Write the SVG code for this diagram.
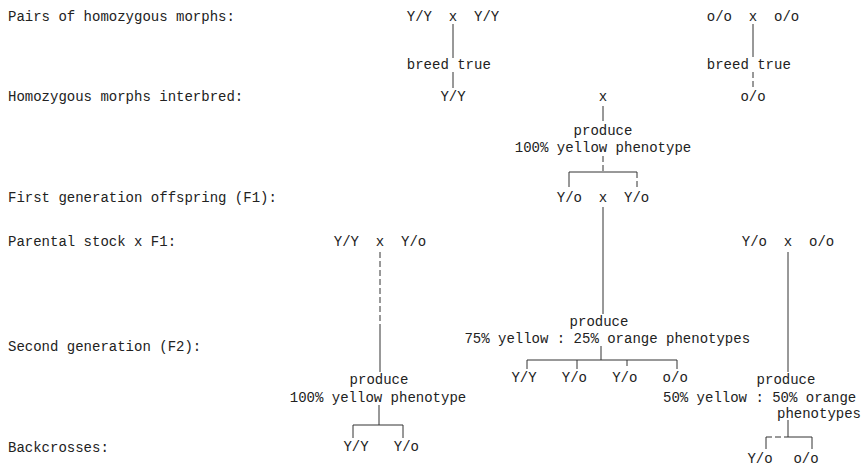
<svg xmlns="http://www.w3.org/2000/svg" width="863" height="467" viewBox="0 0 863 467">
<style>
text{font-family:"Liberation Mono","DejaVu Sans Mono",monospace;font-size:14px;fill:#222}
.m{text-anchor:middle}
line{stroke:#333;stroke-width:1}
.d{stroke-dasharray:6 3}
</style>
<rect width="863" height="467" fill="#fff"/>
<g id="labels">
<text x="8" y="21">Pairs of homozygous morphs:</text>
<text x="8" y="101">Homozygous morphs interbred:</text>
<text x="8" y="202">First generation offspring (F1):</text>
<text x="8" y="246">Parental stock x F1:</text>
<text x="8" y="351">Second generation (F2):</text>
<text x="8" y="452">Backcrosses:</text>
</g>
<g id="connectors">
<line x1="453" y1="24" x2="453" y2="58"/>
<line x1="453" y1="72" x2="453" y2="88"/>
<line x1="753" y1="24" x2="753" y2="57"/>
<line class="d" x1="753" y1="72" x2="753" y2="88"/>
<line x1="603" y1="106" x2="603" y2="121"/>
<line class="d" x1="603" y1="156" x2="603" y2="172"/>
<line x1="569" y1="172" x2="637" y2="172"/>
<line x1="569" y1="172" x2="569" y2="187"/>
<line class="d" x1="637" y1="172" x2="637" y2="187"/>
<line x1="603" y1="207" x2="603" y2="314"/>
<line x1="601" y1="346" x2="601" y2="360"/>
<line x1="527" y1="360" x2="677" y2="360"/>
<line x1="527" y1="360" x2="527" y2="369"/>
<line x1="577" y1="360" x2="577" y2="369"/>
<line class="d" x1="627" y1="360" x2="627" y2="369"/>
<line x1="677" y1="360" x2="677" y2="369"/>
<line class="d" x1="380" y1="252" x2="380" y2="330"/>
<line x1="380" y1="330" x2="380" y2="372"/>
<line x1="379" y1="405" x2="379" y2="425"/>
<line x1="353" y1="425" x2="403" y2="425"/>
<line x1="353" y1="425" x2="353" y2="438"/>
<line x1="403" y1="425" x2="403" y2="438"/>
<line x1="788" y1="252" x2="788" y2="372"/>
<line x1="788" y1="420" x2="788" y2="437"/>
<line class="d" x1="766" y1="437" x2="788" y2="437"/>
<line x1="788" y1="437" x2="812" y2="437"/>
<line x1="766" y1="437" x2="766" y2="449"/>
<line x1="812" y1="437" x2="812" y2="449"/>
</g>
<g id="yy-pair"><text x="406.8" y="21" xml:space="preserve">Y/Y  x  Y/Y</text></g>
<g id="yy-breed"><text x="406.8" y="69">breed true</text></g>
<g id="yy"><text class="m" x="453" y="101">Y/Y</text></g>
<g id="oo-pair"><text x="706.8" y="21" xml:space="preserve">o/o  x  o/o</text></g>
<g id="oo-breed"><text x="706.8" y="69">breed true</text></g>
<g id="oo"><text class="m" x="753" y="101">o/o</text></g>
<g id="cross1"><text class="m" x="603" y="101">x</text></g>
<g id="produce1"><text class="m" x="603" y="135">produce</text><text class="m" x="603" y="152">100% yellow phenotype</text></g>
<g id="f1"><text x="556.8" y="202" xml:space="preserve">Y/o  x  Y/o</text></g>
<g id="produce2"><text class="m" x="599" y="326">produce</text><text x="464.4" y="343">75% yellow : 25% orange phenotypes</text></g>
<g id="f2"><text x="511.4" y="382" xml:space="preserve">Y/Y   Y/o   Y/o   o/o</text></g>
<g id="back-left"><text x="333.8" y="246" xml:space="preserve">Y/Y  x  Y/o</text></g>
<g id="produce3"><text class="m" x="379" y="384">produce</text><text class="m" x="378" y="402">100% yellow phenotype</text></g>
<g id="bc-left"><text x="343.4" y="451" xml:space="preserve">Y/Y   Y/o</text></g>
<g id="back-right"><text x="741.8" y="246" xml:space="preserve">Y/o  x  o/o</text></g>
<g id="produce4"><text class="m" x="786" y="384">produce</text><text x="663" y="402">50% yellow : 50% orange</text><text x="777" y="418">phenotypes</text></g>
<g id="bc-right"><text class="m" x="760" y="463">Y/o</text><text class="m" x="806" y="463">o/o</text></g>
</svg>
